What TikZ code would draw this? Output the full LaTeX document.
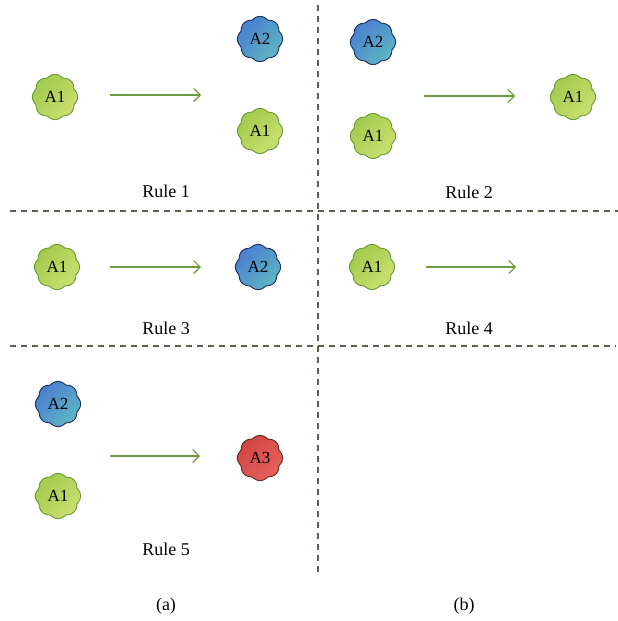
\documentclass[tikz,border=0pt]{standalone}
\usepackage{fontspec}
\setmainfont{Liberation Serif}
\usetikzlibrary{arrows.meta}
\definecolor{gA}{HTML}{A2CA4C}
\definecolor{gB}{HTML}{CADF70}
\definecolor{gE}{HTML}{6A9A35}
\definecolor{bA}{HTML}{4A7ECF}
\definecolor{bB}{HTML}{5EB6C4}
\definecolor{bE}{HTML}{1E2C5C}
\definecolor{rA}{HTML}{CF4646}
\definecolor{rB}{HTML}{E8605A}
\definecolor{rE}{HTML}{5A2A26}
\definecolor{arr}{HTML}{6E9A40}
\definecolor{dsh}{HTML}{5E5E4E}
\tikzset{
  x=1pt,y=-1pt,
  blobtext/.style={circle,inner sep=0pt,minimum size=40pt,font=\fontsize{17}{17}\selectfont},
  rulelbl/.style={font=\fontsize{18}{18}\selectfont},
  sep/.style={draw=dsh,line width=1.1pt,dash pattern=on 6pt off 5pt},
  rarrow/.style={draw=arr,line width=1.1pt,-{Straight Barb[length=6.5pt,width=13pt,line width=1.1pt]}},
  green/.style={left color=gA,right color=gB,draw=gE},
  blue/.style={left color=bA,right color=bB,draw=bE},
  red/.style={left color=rA,right color=rB,draw=rE},
}
\newcommand{\blob}[4]{%
  \path[#4,line width=0.9pt,shading angle=45,line join=round] plot[smooth cycle,samples=97,domain=0:356.25,variable=\t] ({#2+(20.4+2.2*abs(cos(4*\t)))*cos(\t)},{#3+(20.4+2.2*abs(cos(4*\t)))*sin(\t)});
  \node[blobtext] (#1) at (#2,#3) {\addblobtext};%
}
\newcommand{\mkblob}[5]{\def\addblobtext{#5}\blob{#1}{#2}{#3}{#4}}
\begin{document}
\begin{tikzpicture}
\useasboundingbox (0,0) rectangle (618,621);
% separators
\coordinate (vt) at (318,5); \coordinate (vb) at (318,576);
\coordinate (h1l) at (10,211); \coordinate (h1r) at (618,211);
\coordinate (h2l) at (10,346); \coordinate (h2r) at (616,346);
\draw[sep] (vt) -- (vb);
\draw[sep] (h1l) -- (h1r);
\draw[sep] (h2l) -- (h2r);
% Rule 1
\mkblob{r1a}{55}{97}{green}{A1}
\mkblob{r1b}{260}{39}{blue}{A2}
\mkblob{r1c}{260}{131}{green}{A1}
\coordinate (a1s) at (110,95); \coordinate (a1e) at (201,95);
\draw[rarrow] (a1s) -- (a1e);
\node[rulelbl] (l1) at (166,191) {Rule 1};
% Rule 2
\mkblob{r2a}{373}{42}{blue}{A2}
\mkblob{r2b}{373}{136}{green}{A1}
\mkblob{r2c}{573}{97}{green}{A1}
\coordinate (a2s) at (424,96); \coordinate (a2e) at (515,96);
\draw[rarrow] (a2s) -- (a2e);
\node[rulelbl] (l2) at (469,192) {Rule 2};
% Rule 3
\mkblob{r3a}{57}{267}{green}{A1}
\mkblob{r3b}{258}{267}{blue}{A2}
\coordinate (a3s) at (110,267); \coordinate (a3e) at (201,267);
\draw[rarrow] (a3s) -- (a3e);
\node[rulelbl] (l3) at (166,328) {Rule 3};
% Rule 4
\mkblob{r4a}{372}{267}{green}{A1}
\coordinate (a4s) at (426,267); \coordinate (a4e) at (516,267);
\draw[rarrow] (a4s) -- (a4e);
\node[rulelbl] (l4) at (469,328) {Rule 4};
% Rule 5
\mkblob{r5a}{58}{404}{blue}{A2}
\mkblob{r5b}{58}{496}{green}{A1}
\mkblob{r5c}{260}{458}{red}{A3}
\coordinate (a5s) at (110,456); \coordinate (a5e) at (200,456);
\draw[rarrow] (a5s) -- (a5e);
\node[rulelbl] (l5) at (166,549) {Rule 5};
% captions
\node[rulelbl] (ca) at (166,606) {(a)};
\node[rulelbl] (cb) at (464,606) {(b)};
\end{tikzpicture}
\end{document}
